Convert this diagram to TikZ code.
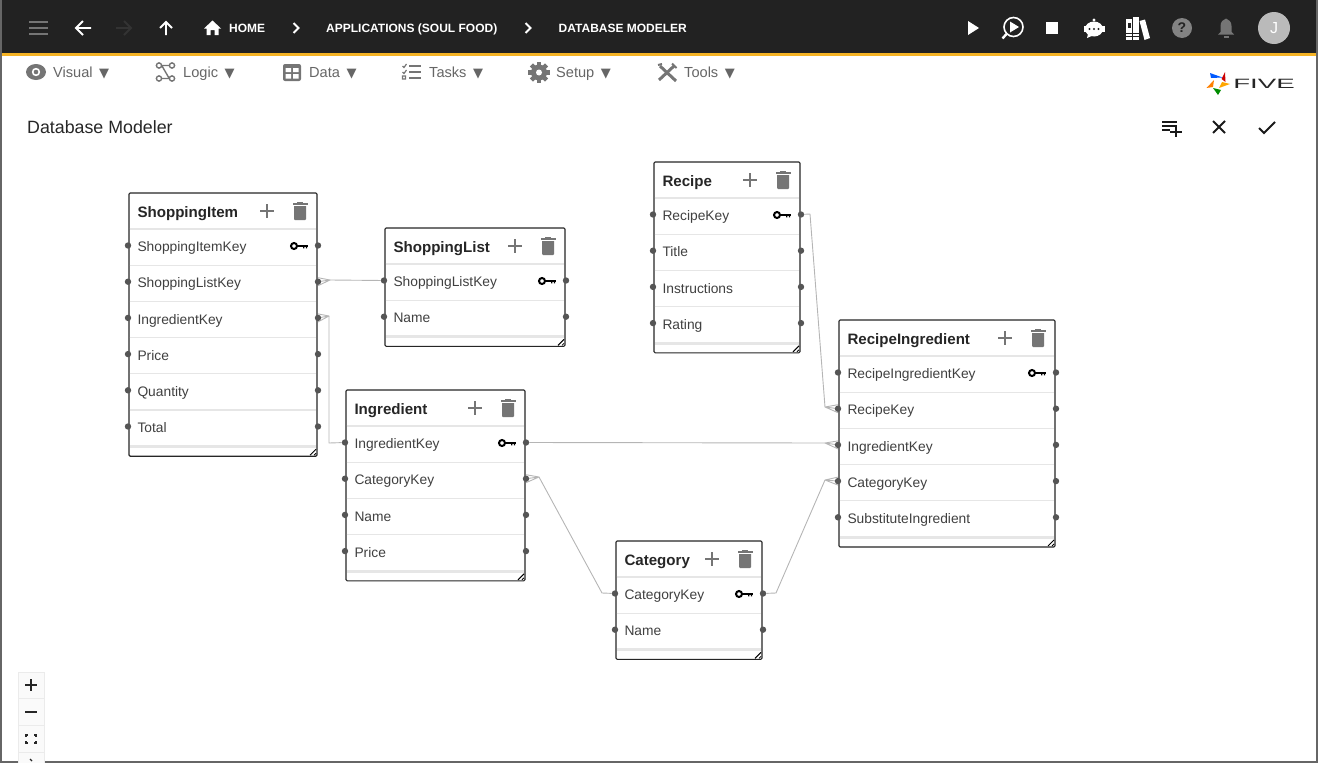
\documentclass[tikz,border=0pt]{standalone}
\usepackage{fontspec}
\setmainfont{Liberation Sans}
\newfontfamily\symfont{DejaVu Sans}
\usetikzlibrary{backgrounds}
\definecolor{barbg}{HTML}{222222}
\definecolor{baredge}{HTML}{F5B324}
\definecolor{menutxt}{HTML}{666666}
\definecolor{icongrey}{HTML}{757575}
\definecolor{rowgrey}{HTML}{E6E6E6}
\definecolor{linkgrey}{HTML}{B5B5B5}
\definecolor{portgrey}{HTML}{555555}
\newcommand{\menuarrow}{\hspace{6.5pt}{\symfont\fontsize{13}{14}\selectfont ▼}}
\tikzset{
	tablebox/.style={
		rectangle,
		rounded corners=1.2,
		anchor=north west,
		outer sep=0pt,
		draw=black!85,
		line width=1.1pt,
		fill=white
	},
	tablehead/.style={anchor=mid west, inner sep=0pt, font=\fontsize{15.1}{18}\selectfont\bfseries, text=black!85},
	tablerow/.style={anchor=mid west, inner sep=0pt, font=\fontsize{13.8}{16}\selectfont, text=black!75},
	rowline/.style={draw=rowgrey, line width=1.1pt},
	port/.style={circle, fill=portgrey, inner sep=0pt, minimum size=6.4pt},
	link/.style={draw=linkgrey, line width=0.9pt, line join=round},
	navtxt/.style={anchor=mid west, inner sep=0pt, text=white, font=\fontsize{12}{14}\selectfont\bfseries},
	menutab/.style={anchor=mid west, inner sep=0pt, text=menutxt, font=\fontsize{14.6}{16}\selectfont},
	navstroke/.style={draw=white, line width=1.8pt},
	toolstroke/.style={draw=black!90, line width=1.9pt},
	plusicon/.pic={
		\draw[icongrey, line width=1.8pt] (-7,0) -- (7,0) (0,-7) -- (0,7);
	},
	trashicon/.pic={
		\fill[icongrey] (-6,-5) -- (6,-5) -- (6,8) -- (5,9) -- (-5,9) -- (-6,8) -- cycle;
		\fill[icongrey] (-7.5,-8) rectangle (7.5,-6);
		\fill[icongrey] (-3,-9.5) rectangle (3,-7);
	},
	keyicon/.pic={
		\draw[black, line width=2pt] (-4,0) circle (3);
		\fill[black] (-1.5,-1.2) rectangle (10,1);
		\fill[black] (5,1) rectangle (6.4,2.4) (7.8,1) rectangle (9.2,2.4);
	}
}
\newcommand{\dbtable}[6]{% name, left, top, width, rows, fields
	\pgfmathsetmacro{\tablh}{46+36.2*#5}
	\node[tablebox, inner sep=0pt, minimum width=#4pt, minimum height=\tablh pt] (#1) at (#2,#3) {};
	\begin{scope}[shift={(#2,#3)}]
		\node[tablehead] (#1-title) at (8.3,22.1) {#1};
		\pic at ({#4-50},18) {plusicon};
		\pic at ({#4-17},18) {trashicon};
		\pic at ({#4-19},53) {keyicon};
		\foreach \fld [count=\i] in {#6} {
			\pgfmathsetmacro{\rowy}{53+36.2*(\i-1)}
			\draw[rowline] (0.6,\rowy-17) -- ({#4-0.6},\rowy-17);
			\node[tablerow] (#1-t\i) at (8.3,\rowy+3) {\fld};
			\node[port] (#1-l\i) at (-1,\rowy-0.5) {};
			\node[port] (#1-r\i) at ({#4+1},\rowy-0.5) {};
		}
		\fill[rowgrey] (0.6,\tablh-11) rectangle ({#4-0.6},\tablh-8);
		\draw[black, line width=1pt] ({#4-7},\tablh-1) -- ({#4-1},\tablh-7);
		\draw[black, line width=0.8pt] ({#4-3},\tablh-1) -- ({#4-1},\tablh-3);
	\end{scope}
}
% crow foot: apex is a named coordinate, prongs go to the port
\newcommand{\crowfoot}[2]{%
	\draw[link] (#1) -- (#2.center) ([yshift=4pt]#2.center) -- (#1) -- ([yshift=-4pt]#2.center);
}
\begin{document}
\begin{tikzpicture}[x=1pt, y=-1pt]
	\useasboundingbox (0,0) rectangle (1318,763);

	% top bar
	\fill[barbg] (0,0) rectangle (1318,53);
	\fill[baredge] (0,53) rectangle (1318,55.5);
	\draw[black!60, line width=1.5pt] (0.8,0) -- (0.8,763) (1317.2,0) -- (1317.2,763) (0,762.2) -- (1318,762.2);

	\draw[icongrey, line width=2pt] (29,22) -- (48,22) (29,28) -- (48,28) (29,34) -- (48,34);
	\draw[navstroke] (91,28) -- (76,28) (83,21) -- (76,28) -- (83,35);
	\draw[navstroke, draw=black!80] (116,28) -- (131,28) (124,21) -- (131,28) -- (124,35);
	\draw[navstroke] (166,35) -- (166,22) (160,28) -- (166,22) -- (172,28);
	\fill[white] (212.5,20.5) -- (221,28.5) -- (218.5,28.5) -- (218.5,35) -- (214.5,35) -- (214.5,30) -- (210.5,30) -- (210.5,35) -- (206.5,35) -- (206.5,28.5) -- (204,28.5) -- cycle;
	\node[navtxt] (home) at (229,29.6) {HOME};
	\draw[navstroke] (293.5,23) -- (298.5,28) -- (293.5,33);
	\node[navtxt] (apps) at (326,29.6) {APPLICATIONS (SOUL FOOD)};
	\draw[navstroke] (525.5,23) -- (530.5,28) -- (525.5,33);
	\node[navtxt] (modeler) at (558.5,29.6) {DATABASE MODELER};

	% top bar, right side
	\fill[white] (968,21) -- (979,28) -- (968,35) -- cycle;
	\draw[white, line width=1.6pt] (1013.5,27) circle (9.5);
	\draw[white, line width=2.4pt] (1006.5,34) -- (1002.5,38.5);
	\fill[white] (1010,21.5) -- (1019,27) -- (1010,32.5) -- cycle;
	\fill[white] (1046,22) rectangle (1058,34);
	\fill[white] (1094,29) ellipse (9 and 7.5);
	\fill[white] (1083.5,26) rectangle (1104.5,32);
	\fill[white] (1094,20) circle (1.6);
	\fill[white] (1088,34) -- (1087,38) -- (1094,35) -- cycle;
	\fill[barbg] (1089.5,29) circle (1.2) (1094,29) circle (1.2) (1098.5,29) circle (1.2);
	\fill[white] (1126,19) rectangle (1132,40);
	\fill[white] (1133,17) rectangle (1138.5,40);
	\fill[white] (1139.5,21) -- (1145,19.5) -- (1150,38) -- (1144.5,40) -- cycle;
	\fill[barbg] (1127.5,23) rectangle (1130.5,28);
	\draw[barbg, line width=0.8pt] (1126,33) -- (1138.5,33) (1126,36) -- (1138.5,36);
	\fill[icongrey!90!white] (1182,28) circle (10);
	\node[inner sep=0pt, text=barbg, font=\fontsize{14}{16}\selectfont\bfseries] (help) at (1182,28) {?};
	\fill[icongrey] (1218,34.5) -- (1220.5,32) -- (1220.5,26) .. controls (1220.5,21.5) and (1223.5,19.5) .. (1226,18.5) .. controls (1228.5,19.5) and (1231.5,21.5) .. (1231.5,26) -- (1231.5,32) -- (1234,34.5) -- cycle;
	\fill[icongrey] (1223.5,35.5) rectangle (1228.5,37.5);
	\node[circle, fill=black!27, minimum size=32pt, inner sep=0pt, text=white, font=\fontsize{16}{18}\selectfont] (avatar) at (1274,28) {J};

	% menu row
	\fill[icongrey] (36,72) ellipse (10 and 8);
	\fill[white] (36,72) circle (4.2);
	\fill[icongrey] (36,72) circle (2.3);
	\node[menutab] (visual) at (53,74.4) {Visual\menuarrow};
	\draw[icongrey, line width=1.4pt] (159,65.5) circle (2.6) (172,65.5) circle (2.6) (159,78.5) circle (2.6) (172,78.5) circle (2.6) (162,66) -- (169,78) (162,65.5) -- (169,65.5) (162,78.5) -- (169,78.5);
	\node[menutab] (logic) at (183,74.4) {Logic\menuarrow};
	\fill[icongrey, rounded corners=2] (283,64) rectangle (301,81);
	\fill[white] (285.5,68) rectangle (291,72) (293,68) rectangle (298.5,72) (285.5,74) rectangle (291,78.5) (293,74) rectangle (298.5,78.5);
	\node[menutab] (datatab) at (309,74.4) {Data\menuarrow};
	\draw[icongrey, line width=1.6pt] (409,66) -- (421,66) (409,72) -- (421,72) (409,78) -- (421,78);
	\draw[icongrey, line width=1.2pt] (402.5,66) -- (404,67.5) -- (406.5,64) (402.5,72) -- (404,73.5) -- (406.5,70) (402.5,76) rectangle (405.5,79);
	\node[menutab] (tasks) at (429,74.4) {Tasks\menuarrow};
	\foreach \ang in {0,45,...,315} {
		\fill[icongrey, rotate around={\ang:(539,72.5)}] (536.8,61.8) rectangle (541.2,66);
	}
	\fill[icongrey] (539,72.5) circle (8);
	\fill[white] (539,72.5) circle (3);
	\node[menutab] (setup) at (556,74.4) {Setup\menuarrow};
	\draw[icongrey, line width=3pt] (660,66) -- (676,81);
	\draw[icongrey, line width=3pt] (674,66) -- (659,80);
	\draw[icongrey, line width=2pt] (672,63.5) -- (676.5,68) (658,65) -- (662,64);
	\node[menutab] (tools) at (684,74.4) {Tools\menuarrow};

	% logo
	\fill[blue!65!cyan] (1210,73) -- (1222.5,77.5) -- (1211,78) -- cycle;
	\fill[red!80!black] (1225,72) -- (1225.5,82) -- (1221.5,79) -- cycle;
	\fill[orange!70!yellow] (1230,84) -- (1219,88) -- (1222,82) -- cycle;
	\fill[green!55!black] (1218,95) -- (1213,88) -- (1221,90) -- cycle;
	\fill[orange] (1206.5,88) -- (1214,80) -- (1213,87) -- cycle;
	\node[inner sep=0pt, xscale=2.05, transform shape, font=\fontsize{13.5}{15}\selectfont, text=black!85] (five) at (1264,84) {FIVE};

	% page title and tools
	\node[anchor=mid west, inner sep=0pt, text=black!85, font=\fontsize{17.8}{20}\selectfont] (pagetitle) at (27,131) {Database Modeler};
	\draw[toolstroke] (1162,122) -- (1177,122) (1162,126) -- (1177,126) (1162,130) -- (1170,130) (1170,132) -- (1182,132) (1176,126.5) -- (1176,137);
	\draw[toolstroke] (1213,121) -- (1225,133) (1225,121) -- (1213,133);
	\draw[toolstroke] (1259,128) -- (1264,133) -- (1275,122);

	% tables
	\dbtable{ShoppingItem}{129}{193}{188}{6}{ShoppingItemKey,ShoppingListKey,IngredientKey,Price,Quantity,Total}
	\dbtable{ShoppingList}{385}{228}{180}{2}{ShoppingListKey,Name}
	\dbtable{Recipe}{654}{162}{146}{4}{RecipeKey,Title,Instructions,Rating}
	\dbtable{Ingredient}{346}{390}{179}{4}{IngredientKey,CategoryKey,Name,Price}
	\dbtable{Category}{616}{541}{146}{2}{CategoryKey,Name}
	\dbtable{RecipeIngredient}{839}{320}{216}{5}{RecipeIngredientKey,RecipeKey,IngredientKey,CategoryKey,SubstituteIngredient}

	% links
	\begin{pgfonlayer}{background}
		\coordinate (apexlist) at (330,280);
		\coordinate (apexing) at (329,316);
		\coordinate (apexcat) at (539,477);
		\coordinate (apexrec) at (825,407);
		\coordinate (apexringr) at (825,443);
		\coordinate (apexrcat) at (825,480);
		\draw[link] (ShoppingList-l1) -- (apexlist);
		\crowfoot{apexlist}{ShoppingItem-r2}
		\draw[link] (Ingredient-l1) -- (329,443) -- (apexing);
		\crowfoot{apexing}{ShoppingItem-r3}
		\draw[link] (Category-l1) -- (602,593) -- (apexcat);
		\crowfoot{apexcat}{Ingredient-r2}
		\draw[link] (Recipe-r1) -- (810,214) -- (apexrec);
		\crowfoot{apexrec}{RecipeIngredient-l2}
		\draw[link] (Ingredient-r1) -- (apexringr);
		\crowfoot{apexringr}{RecipeIngredient-l3}
		\draw[link] (Category-r1) -- (776,593) -- (apexrcat);
		\crowfoot{apexrcat}{RecipeIngredient-l4}
	\end{pgfonlayer}

	% zoom control
	\draw[fill=black!2, draw=black!8, line width=0.8pt] (18,672) rectangle (44,763);
	\draw[draw=black!8, line width=0.8pt] (18,698.5) -- (44,698.5) (18,725.5) -- (44,725.5) (18,752.5) -- (44,752.5);
	\draw[black!85, line width=1.6pt] (25,685) -- (37,685) (31,679) -- (31,691);
	\draw[black!85, line width=1.6pt] (25,712) -- (37,712);
	\draw[black!85, line width=1.2pt] (26,737) -- (26,735) -- (28,735) (34,735) -- (36,735) -- (36,737) (36,741) -- (36,743) -- (34,743) (28,743) -- (26,743) -- (26,741);
	\draw[black!85, line width=1.1pt] (30,759) -- (32,761);
\end{tikzpicture}
\end{document}
